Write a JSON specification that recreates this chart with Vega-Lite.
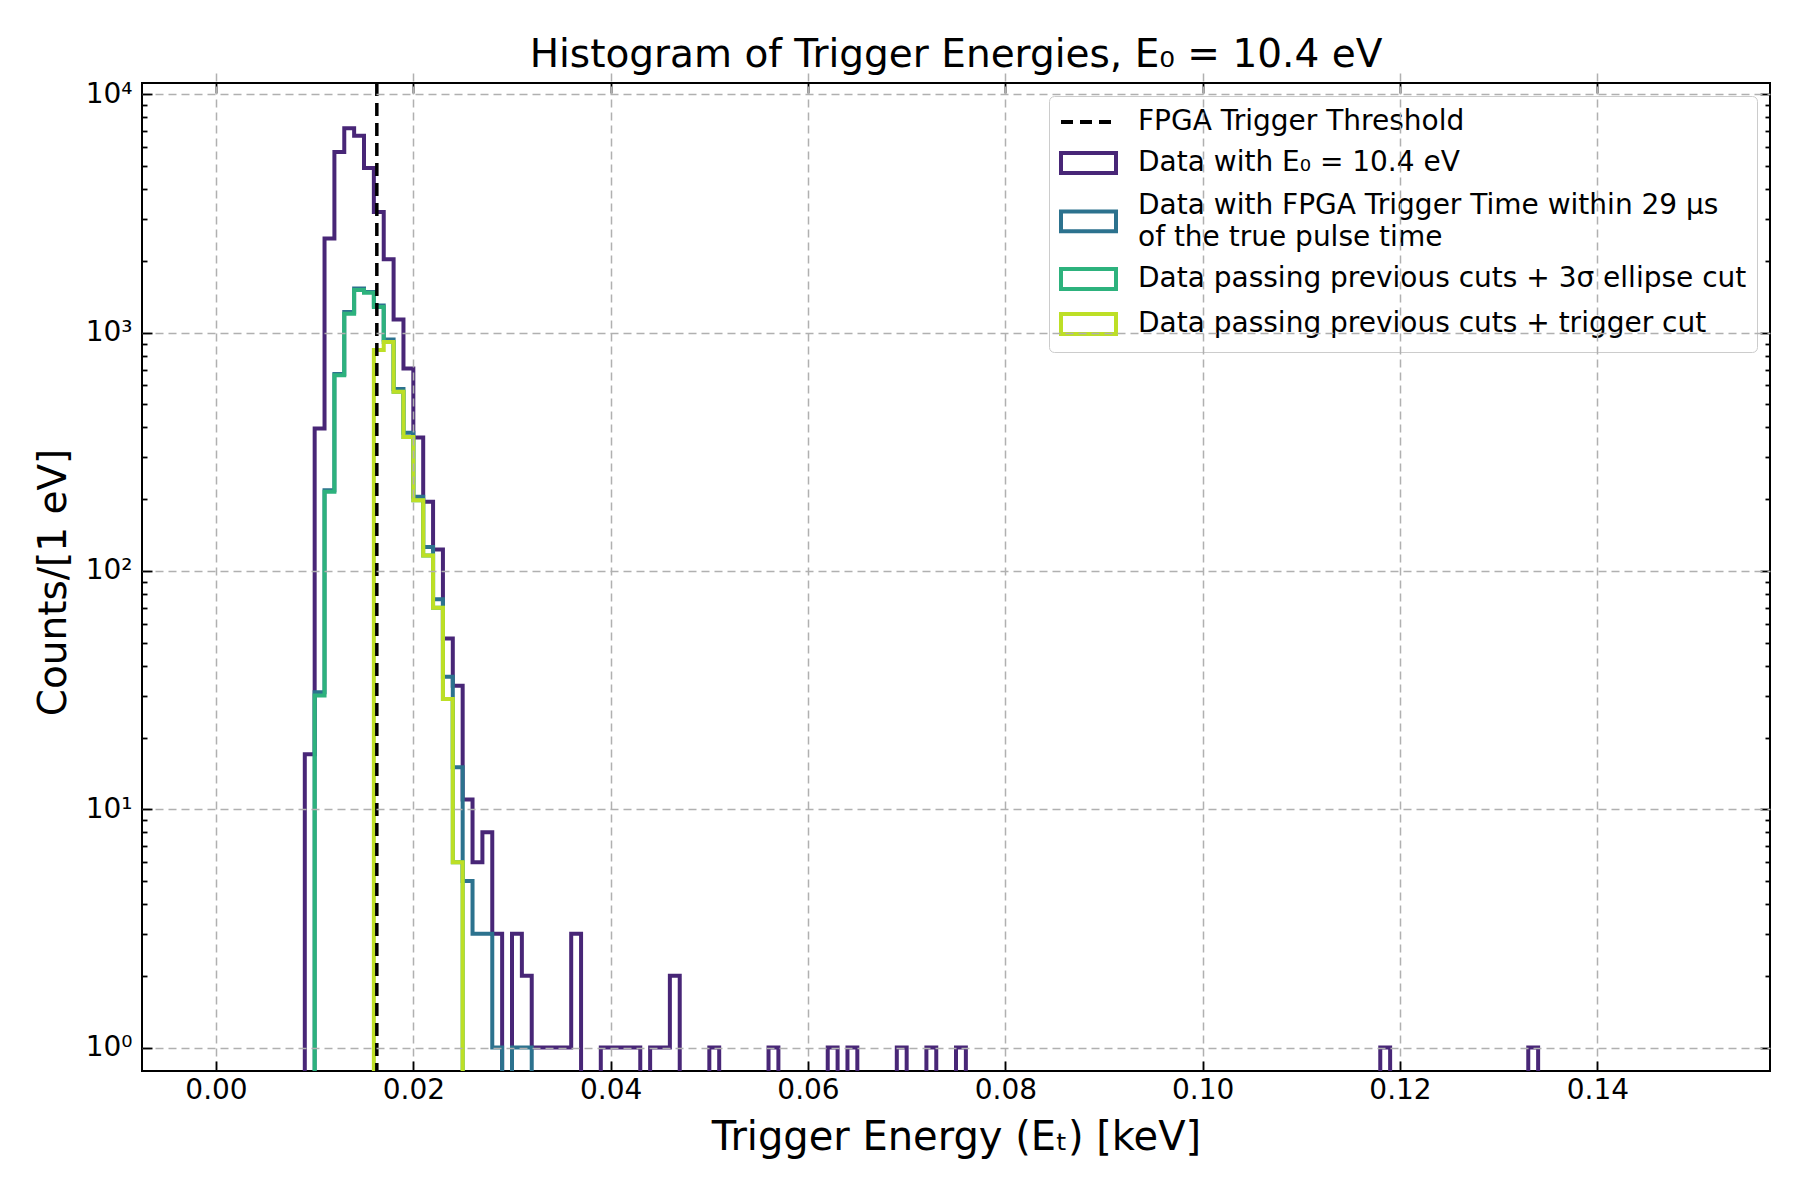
{
  "$schema": "https://vega.github.io/schema/vega-lite/v6.json",
  "width": 1628,
  "height": 988,
  "autosize": {"type": "none"},
  "padding": {"left": 142, "top": 83, "right": 30, "bottom": 129},
  "background": "white",
  "config": {
    "view": {"stroke": "black", "strokeWidth": 2},
    "font": "DejaVu Sans"
  },
  "title": {
    "text": "Histogram of Trigger Energies, E₀ = 10.4 eV",
    "font": "DejaVu Sans",
    "fontSize": 39,
    "fontWeight": "normal",
    "color": "black",
    "anchor": "middle",
    "baseline": "alphabetic",
    "offset": -26
  },
  "datasets": {
    "purple": [
      {"series": "Data with E₀ = 10.4 eV", "e": 0.008, "count": 0},
      {"series": "Data with E₀ = 10.4 eV", "e": 0.009, "count": 17},
      {"series": "Data with E₀ = 10.4 eV", "e": 0.010, "count": 396},
      {"series": "Data with E₀ = 10.4 eV", "e": 0.011, "count": 2480},
      {"series": "Data with E₀ = 10.4 eV", "e": 0.012, "count": 5730},
      {"series": "Data with E₀ = 10.4 eV", "e": 0.013, "count": 7200},
      {"series": "Data with E₀ = 10.4 eV", "e": 0.014, "count": 6700},
      {"series": "Data with E₀ = 10.4 eV", "e": 0.015, "count": 4900},
      {"series": "Data with E₀ = 10.4 eV", "e": 0.016, "count": 3210},
      {"series": "Data with E₀ = 10.4 eV", "e": 0.017, "count": 2030},
      {"series": "Data with E₀ = 10.4 eV", "e": 0.018, "count": 1135},
      {"series": "Data with E₀ = 10.4 eV", "e": 0.019, "count": 707},
      {"series": "Data with E₀ = 10.4 eV", "e": 0.020, "count": 363},
      {"series": "Data with E₀ = 10.4 eV", "e": 0.021, "count": 195},
      {"series": "Data with E₀ = 10.4 eV", "e": 0.022, "count": 123},
      {"series": "Data with E₀ = 10.4 eV", "e": 0.023, "count": 52},
      {"series": "Data with E₀ = 10.4 eV", "e": 0.024, "count": 33},
      {"series": "Data with E₀ = 10.4 eV", "e": 0.025, "count": 11},
      {"series": "Data with E₀ = 10.4 eV", "e": 0.026, "count": 6},
      {"series": "Data with E₀ = 10.4 eV", "e": 0.027, "count": 8},
      {"series": "Data with E₀ = 10.4 eV", "e": 0.028, "count": 3},
      {"series": "Data with E₀ = 10.4 eV", "e": 0.029, "count": 0},
      {"series": "Data with E₀ = 10.4 eV", "e": 0.030, "count": 3},
      {"series": "Data with E₀ = 10.4 eV", "e": 0.031, "count": 2},
      {"series": "Data with E₀ = 10.4 eV", "e": 0.032, "count": 1},
      {"series": "Data with E₀ = 10.4 eV", "e": 0.033, "count": 1},
      {"series": "Data with E₀ = 10.4 eV", "e": 0.034, "count": 1},
      {"series": "Data with E₀ = 10.4 eV", "e": 0.035, "count": 1},
      {"series": "Data with E₀ = 10.4 eV", "e": 0.036, "count": 3},
      {"series": "Data with E₀ = 10.4 eV", "e": 0.037, "count": 0},
      {"series": "Data with E₀ = 10.4 eV", "e": 0.039, "count": 1},
      {"series": "Data with E₀ = 10.4 eV", "e": 0.040, "count": 1},
      {"series": "Data with E₀ = 10.4 eV", "e": 0.041, "count": 1},
      {"series": "Data with E₀ = 10.4 eV", "e": 0.042, "count": 1},
      {"series": "Data with E₀ = 10.4 eV", "e": 0.043, "count": 0},
      {"series": "Data with E₀ = 10.4 eV", "e": 0.044, "count": 1},
      {"series": "Data with E₀ = 10.4 eV", "e": 0.045, "count": 1},
      {"series": "Data with E₀ = 10.4 eV", "e": 0.046, "count": 2},
      {"series": "Data with E₀ = 10.4 eV", "e": 0.047, "count": 0},
      {"series": "Data with E₀ = 10.4 eV", "e": 0.050, "count": 1},
      {"series": "Data with E₀ = 10.4 eV", "e": 0.051, "count": 0},
      {"series": "Data with E₀ = 10.4 eV", "e": 0.056, "count": 1},
      {"series": "Data with E₀ = 10.4 eV", "e": 0.057, "count": 0},
      {"series": "Data with E₀ = 10.4 eV", "e": 0.062, "count": 1},
      {"series": "Data with E₀ = 10.4 eV", "e": 0.063, "count": 0},
      {"series": "Data with E₀ = 10.4 eV", "e": 0.064, "count": 1},
      {"series": "Data with E₀ = 10.4 eV", "e": 0.065, "count": 0},
      {"series": "Data with E₀ = 10.4 eV", "e": 0.069, "count": 1},
      {"series": "Data with E₀ = 10.4 eV", "e": 0.070, "count": 0},
      {"series": "Data with E₀ = 10.4 eV", "e": 0.072, "count": 1},
      {"series": "Data with E₀ = 10.4 eV", "e": 0.073, "count": 0},
      {"series": "Data with E₀ = 10.4 eV", "e": 0.075, "count": 1},
      {"series": "Data with E₀ = 10.4 eV", "e": 0.076, "count": 0},
      {"series": "Data with E₀ = 10.4 eV", "e": 0.118, "count": 1},
      {"series": "Data with E₀ = 10.4 eV", "e": 0.119, "count": 0},
      {"series": "Data with E₀ = 10.4 eV", "e": 0.133, "count": 1},
      {"series": "Data with E₀ = 10.4 eV", "e": 0.134, "count": 0}
    ],
    "blue": [
      {"series": "Data with FPGA Trigger Time within 29 μs of the true pulse time", "e": 0.009, "count": 0},
      {"series": "Data with FPGA Trigger Time within 29 μs of the true pulse time", "e": 0.010, "count": 31},
      {"series": "Data with FPGA Trigger Time within 29 μs of the true pulse time", "e": 0.011, "count": 218},
      {"series": "Data with FPGA Trigger Time within 29 μs of the true pulse time", "e": 0.012, "count": 670},
      {"series": "Data with FPGA Trigger Time within 29 μs of the true pulse time", "e": 0.013, "count": 1220},
      {"series": "Data with FPGA Trigger Time within 29 μs of the true pulse time", "e": 0.014, "count": 1530},
      {"series": "Data with FPGA Trigger Time within 29 μs of the true pulse time", "e": 0.015, "count": 1480},
      {"series": "Data with FPGA Trigger Time within 29 μs of the true pulse time", "e": 0.016, "count": 1300},
      {"series": "Data with FPGA Trigger Time within 29 μs of the true pulse time", "e": 0.017, "count": 935},
      {"series": "Data with FPGA Trigger Time within 29 μs of the true pulse time", "e": 0.018, "count": 580},
      {"series": "Data with FPGA Trigger Time within 29 μs of the true pulse time", "e": 0.019, "count": 380},
      {"series": "Data with FPGA Trigger Time within 29 μs of the true pulse time", "e": 0.020, "count": 205},
      {"series": "Data with FPGA Trigger Time within 29 μs of the true pulse time", "e": 0.021, "count": 126},
      {"series": "Data with FPGA Trigger Time within 29 μs of the true pulse time", "e": 0.022, "count": 76},
      {"series": "Data with FPGA Trigger Time within 29 μs of the true pulse time", "e": 0.023, "count": 36},
      {"series": "Data with FPGA Trigger Time within 29 μs of the true pulse time", "e": 0.024, "count": 15},
      {"series": "Data with FPGA Trigger Time within 29 μs of the true pulse time", "e": 0.025, "count": 5},
      {"series": "Data with FPGA Trigger Time within 29 μs of the true pulse time", "e": 0.026, "count": 3},
      {"series": "Data with FPGA Trigger Time within 29 μs of the true pulse time", "e": 0.027, "count": 3},
      {"series": "Data with FPGA Trigger Time within 29 μs of the true pulse time", "e": 0.028, "count": 1},
      {"series": "Data with FPGA Trigger Time within 29 μs of the true pulse time", "e": 0.029, "count": 0},
      {"series": "Data with FPGA Trigger Time within 29 μs of the true pulse time", "e": 0.030, "count": 1},
      {"series": "Data with FPGA Trigger Time within 29 μs of the true pulse time", "e": 0.031, "count": 1},
      {"series": "Data with FPGA Trigger Time within 29 μs of the true pulse time", "e": 0.032, "count": 0}
    ],
    "green": [
      {"series": "Data passing previous cuts + 3σ ellipse cut", "e": 0.009, "count": 0},
      {"series": "Data passing previous cuts + 3σ ellipse cut", "e": 0.010, "count": 30},
      {"series": "Data passing previous cuts + 3σ ellipse cut", "e": 0.011, "count": 215},
      {"series": "Data passing previous cuts + 3σ ellipse cut", "e": 0.012, "count": 663},
      {"series": "Data passing previous cuts + 3σ ellipse cut", "e": 0.013, "count": 1200},
      {"series": "Data passing previous cuts + 3σ ellipse cut", "e": 0.014, "count": 1510},
      {"series": "Data passing previous cuts + 3σ ellipse cut", "e": 0.015, "count": 1470},
      {"series": "Data passing previous cuts + 3σ ellipse cut", "e": 0.016, "count": 1282},
      {"series": "Data passing previous cuts + 3σ ellipse cut", "e": 0.017, "count": 914},
      {"series": "Data passing previous cuts + 3σ ellipse cut", "e": 0.018, "count": 564},
      {"series": "Data passing previous cuts + 3σ ellipse cut", "e": 0.019, "count": 365},
      {"series": "Data passing previous cuts + 3σ ellipse cut", "e": 0.020, "count": 198},
      {"series": "Data passing previous cuts + 3σ ellipse cut", "e": 0.021, "count": 116},
      {"series": "Data passing previous cuts + 3σ ellipse cut", "e": 0.022, "count": 70},
      {"series": "Data passing previous cuts + 3σ ellipse cut", "e": 0.023, "count": 29},
      {"series": "Data passing previous cuts + 3σ ellipse cut", "e": 0.024, "count": 6},
      {"series": "Data passing previous cuts + 3σ ellipse cut", "e": 0.025, "count": 0}
    ],
    "yellow": [
      {"series": "Data passing previous cuts + trigger cut", "e": 0.015, "count": 0},
      {"series": "Data passing previous cuts + trigger cut", "e": 0.016, "count": 845},
      {"series": "Data passing previous cuts + trigger cut", "e": 0.017, "count": 914},
      {"series": "Data passing previous cuts + trigger cut", "e": 0.018, "count": 564},
      {"series": "Data passing previous cuts + trigger cut", "e": 0.019, "count": 365},
      {"series": "Data passing previous cuts + trigger cut", "e": 0.020, "count": 198},
      {"series": "Data passing previous cuts + trigger cut", "e": 0.021, "count": 116},
      {"series": "Data passing previous cuts + trigger cut", "e": 0.022, "count": 70},
      {"series": "Data passing previous cuts + trigger cut", "e": 0.023, "count": 29},
      {"series": "Data passing previous cuts + trigger cut", "e": 0.024, "count": 6},
      {"series": "Data passing previous cuts + trigger cut", "e": 0.025, "count": 0}
    ],
    "threshold": [
      {"series": "FPGA Trigger Threshold", "e": 0.0163}
    ]
  },
  "encoding": {
    "color": {
      "field": "series",
      "type": "nominal",
      "scale": {
        "domain": [
          "FPGA Trigger Threshold",
          "Data with E₀ = 10.4 eV",
          "Data with FPGA Trigger Time within 29 μs of the true pulse time",
          "Data passing previous cuts + 3σ ellipse cut",
          "Data passing previous cuts + trigger cut"
        ],
        "range": ["#000000", "#482677", "#2c728e", "#2db27d", "#bddf26"]
      },
      "legend": {
        "title": null,
        "orient": "top-right",
        "offset": 13,
        "padding": 10,
        "rowPadding": 9,
        "labelOffset": 47,
        "labelFont": "DejaVu Sans",
        "labelFontSize": 28,
        "labelColor": "black",
        "labelLimit": 0,
        "labelBaseline": "middle",
        "symbolSize": 784,
        "symbolStrokeWidth": 4,
        "symbolType": "M-1,-0.71H2.93V0.71H-1Z",
        "strokeColor": "#cccccc",
        "fillColor": "rgba(255,255,255,0.8)",
        "cornerRadius": 5,
        "labelExpr": "indexof(datum.label, 'within 29') >= 0 ? ['Data with FPGA Trigger Time within 29 μs', 'of the true pulse time'] : datum.label",
        "encode": {
          "symbols": {
            "update": {
              "shape": {"signal": "datum.value === 'FPGA Trigger Threshold' ? 'M-1,0H2.93' : indexof(datum.value, 'within 29') >= 0 ? 'M-1,0.39H2.93V1.81H-1Z' : 'M-1,-0.71H2.93V0.71H-1Z'"},
              "strokeDash": {"signal": "datum.value === 'FPGA Trigger Threshold' ? [12, 7] : [1, 0]"},
              "fill": {"value": "white"},
              "fillOpacity": {"value": 0},
              "opacity": {"value": 1}
            }
          },
          "labels": {
            "update": {"lineHeight": {"value": 32}}
          }
        }
      }
    }
  },
  "layer": [
    {
      "data": {"name": "purple"},
      "mark": {"type": "line", "interpolate": "step-after", "strokeWidth": 4, "clip": true},
      "encoding": {
        "x": {
          "field": "e",
          "type": "quantitative",
          "scale": {"domain": [-0.0075, 0.1575], "nice": false, "zero": false},
          "axis": {
            "orient": "bottom",
            "values": [0, 0.02, 0.04, 0.06, 0.08, 0.1, 0.12, 0.14],
            "format": ".2f",
            "title": "Trigger Energy (Eₜ) [keV]",
            "titleFont": "DejaVu Sans",
            "titleFontSize": 40,
            "titleFontWeight": "normal",
            "titleColor": "black",
            "titlePadding": 13,
            "labelFont": "DejaVu Sans",
            "labelFontSize": 28,
            "labelColor": "black",
            "labelPadding": 15,
            "tickSize": -10,
            "tickWidth": 1.8,
            "tickColor": "black",
            "domain": false,
            "grid": true,
            "gridColor": "#b0b0b0",
            "gridDash": [8, 5],
            "gridWidth": 1.5,
            "zindex": 1
          }
        },
        "y": {
          "field": "count",
          "type": "quantitative",
          "scale": {"type": "log", "domain": [0.7241, 11150], "range": [998, 0], "nice": false, "clamp": true},
          "axis": {
            "orient": "left",
            "values": [1, 2, 3, 4, 5, 6, 7, 8, 9, 10, 20, 30, 40, 50, 60, 70, 80, 90, 100, 200, 300, 400, 500, 600, 700, 800, 900, 1000, 2000, 3000, 4000, 5000, 6000, 7000, 8000, 9000, 10000],
            "labelExpr": "datum.value == 1 ? '10⁰' : datum.value == 10 ? '10¹' : datum.value == 100 ? '10²' : datum.value == 1000 ? '10³' : datum.value == 10000 ? '10⁴' : ''",
            "title": "Counts/[1 eV]",
            "titleFont": "DejaVu Sans",
            "titleFontSize": 39,
            "titleFontWeight": "normal",
            "titleColor": "black",
            "titlePadding": 12,
            "labelFont": "DejaVu Sans",
            "labelFontSize": 28,
            "labelColor": "black",
            "labelPadding": 20,
            "tickSize": {"condition": {"test": "datum.value == 1 || datum.value == 10 || datum.value == 100 || datum.value == 1000 || datum.value == 10000", "value": -10}, "value": -5},
            "tickWidth": 1.8,
            "tickColor": "black",
            "domain": false,
            "grid": true,
            "gridColor": "#b0b0b0",
            "gridDash": [8, 5],
            "gridWidth": 1.5,
            "gridOpacity": {"condition": {"test": "datum.value == 1 || datum.value == 10 || datum.value == 100 || datum.value == 1000 || datum.value == 10000", "value": 1}, "value": 0},
            "zindex": 1
          }
        }
      }
    },
    {
      "data": {"name": "blue"},
      "mark": {"type": "line", "interpolate": "step-after", "strokeWidth": 4, "clip": true},
      "encoding": {
        "x": {"field": "e", "type": "quantitative", "axis": null},
        "y": {"field": "count", "type": "quantitative", "axis": null}
      }
    },
    {
      "data": {"name": "green"},
      "mark": {"type": "line", "interpolate": "step-after", "strokeWidth": 4, "clip": true},
      "encoding": {
        "x": {"field": "e", "type": "quantitative", "axis": null},
        "y": {"field": "count", "type": "quantitative", "axis": null}
      }
    },
    {
      "data": {"name": "yellow"},
      "mark": {"type": "line", "interpolate": "step-after", "strokeWidth": 4, "clip": true},
      "encoding": {
        "x": {
          "field": "e",
          "type": "quantitative",
          "axis": {
            "orient": "top",
            "values": [0, 0.02, 0.04, 0.06, 0.08, 0.1, 0.12, 0.14],
            "labels": false,
            "title": null,
            "tickSize": -10,
            "tickWidth": 1.8,
            "tickColor": "black",
            "domain": false,
            "grid": false
          }
        },
        "y": {
          "field": "count",
          "type": "quantitative",
          "axis": {
            "orient": "right",
            "values": [1, 2, 3, 4, 5, 6, 7, 8, 9, 10, 20, 30, 40, 50, 60, 70, 80, 90, 100, 200, 300, 400, 500, 600, 700, 800, 900, 1000, 2000, 3000, 4000, 5000, 6000, 7000, 8000, 9000, 10000],
            "labels": false,
            "title": null,
            "tickSize": {"condition": {"test": "datum.value == 1 || datum.value == 10 || datum.value == 100 || datum.value == 1000 || datum.value == 10000", "value": -10}, "value": -5},
            "tickWidth": 1.8,
            "tickColor": "black",
            "domain": false,
            "grid": false
          }
        }
      }
    },
    {
      "data": {"name": "threshold"},
      "mark": {"type": "rule", "strokeWidth": 3.5, "strokeDash": [13, 7]},
      "encoding": {
        "x": {"field": "e", "type": "quantitative", "axis": null}
      }
    }
  ],
  "resolve": {
    "scale": {"x": "shared", "y": "shared", "color": "shared"},
    "axis": {"x": "independent", "y": "independent"}
  }
}
